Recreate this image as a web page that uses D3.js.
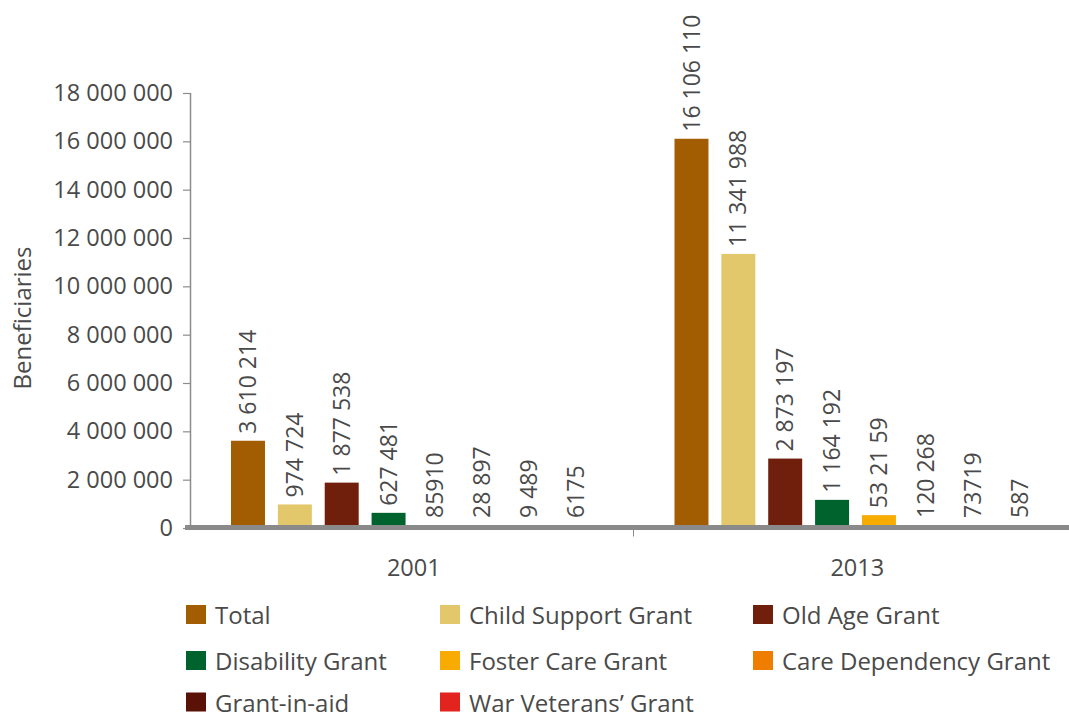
<!DOCTYPE html>
<html>
<head>
<meta charset="utf-8">
<script src="https://cdn.jsdelivr.net/npm/d3@7"></script>
<style>
  html, body { margin: 0; padding: 0; background: #fff; }
  svg { display: block; font-family: "Open Sans", "Noto Sans", sans-serif; }
</style>
</head>
<body>
<svg id="chart" width="1069" height="718"></svg>
<script>
// Social grant beneficiaries by grant type, 2001 and 2013
const years = ["2001", "2013"];
const grants = [
  "Total", "Child Support Grant", "Old Age Grant", "Disability Grant",
  "Foster Care Grant", "Care Dependency Grant", "Grant-in-aid", "War Veterans’ Grant"
];
const grantColors = [
  "#a25d02", "#e2c76b", "#6f1f0c", "#00632e",
  "#f8ab00", "#ee7d00", "#5a1206", "#e2231e"
];
const values2001 = [3610214, 974724, 1877538, 627481, 85910, 28897, 9489, 6175];
const values2013 = [16106110, 11341988, 2873197, 1164192, 532159, 120268, 73719, 587];
const labels2001 = ["3 610 214", "974 724", "1 877 538", "627 481", "85910", "28 897", "9 489", "6175"];
const labels2013 = ["16 106 110", "11 341 988", "2 873 197", "1 164 192", "53 21 59", "120 268", "73719", "587"];
const yTicks = [0, 2000000, 4000000, 6000000, 8000000, 10000000, 12000000, 14000000, 16000000, 18000000];

const series = {
  "2001": { values: values2001, labels: labels2001 },
  "2013": { values: values2013, labels: labels2013 }
};

const svg = d3.select("#chart");
const textColor = "#4a4a4a";
const axisColor = "#8c8c8c";

const plotLeft = 190, plotRight = 1077, plotTop = 93, plotBottom = 528;
const baselineY = 527.5;

const x0 = d3.scaleBand().domain(years).range([plotLeft, plotRight]);
const x1 = d3.scaleBand().domain(grants).range([41, 403]).paddingInner(0.275);
const y = d3.scaleLinear().domain([0, 18000000]).range([plotBottom, plotTop]);

const fmt = d => d3.format(",")(d).replace(/,/g, " ");

// y axis
const yAxis = svg.append("g")
  .attr("transform", `translate(${plotLeft},0)`)
  .call(d3.axisLeft(y).tickValues(yTicks).tickFormat(fmt).tickSize(7).tickPadding(10));
yAxis.select(".domain").attr("stroke", axisColor).attr("stroke-width", 1.5)
  .attr("d", `M0.5,${plotTop}V${plotBottom}`);
yAxis.selectAll(".tick line").attr("stroke", axisColor).attr("stroke-width", 1.2);
yAxis.selectAll(".tick text")
  .attr("fill", textColor)
  .style("font-size", "23.5px")
  .style("font-family", "'Open Sans', sans-serif");

// y axis title
svg.append("text")
  .attr("transform", `translate(31,318) rotate(-90)`)
  .attr("text-anchor", "middle")
  .attr("fill", textColor)
  .style("font-size", "24px")
  .text("Beneficiaries");

// bars and value labels
const groups = svg.append("g").selectAll("g")
  .data(years)
  .join("g")
  .attr("transform", d => `translate(${x0(d)},0)`);

groups.selectAll("rect")
  .data(yr => grants.map((g, i) => ({ g, i, v: series[yr].values[i] })))
  .join("rect")
  .attr("x", d => x1(d.g))
  .attr("width", x1.bandwidth())
  .attr("y", d => y(d.v))
  .attr("height", d => y(0) - y(d.v))
  .attr("fill", d => grantColors[d.i]);

groups.selectAll("text.value")
  .data(yr => grants.map((g, i) => ({ g, i, v: series[yr].values[i], t: series[yr].labels[i] })))
  .join("text")
  .attr("class", "value")
  .attr("transform", d => `translate(${x1(d.g) + x1.bandwidth() / 2},${Math.min(y(d.v), y(0) - 3) - 7}) rotate(-90)`)
  .attr("dy", "0.35em")
  .attr("text-anchor", "start")
  .attr("fill", textColor)
  .style("font-size", "23px")
  .text(d => d.t);

// x axis: thick baseline, category separator and year labels
svg.append("line")
  .attr("x1", 185).attr("x2", 1069)
  .attr("y1", baselineY).attr("y2", baselineY)
  .attr("stroke", "#8a8a8a").attr("stroke-width", 5);

svg.append("line")
  .attr("x1", x0("2013")).attr("x2", x0("2013"))
  .attr("y1", baselineY + 2.5).attr("y2", baselineY + 9)
  .attr("stroke", axisColor).attr("stroke-width", 1);

svg.append("g").selectAll("text")
  .data(years)
  .join("text")
  .attr("x", d => x0(d) + x0.bandwidth() / 2 + 2)
  .attr("y", 576)
  .attr("text-anchor", "middle")
  .attr("fill", textColor)
  .style("font-size", "23.5px")
  .text(d => d);

// legend
const legendCols = [186, 440, 753];
const legendRows = [624, 670, 711.5];
const legend = svg.append("g").selectAll("g")
  .data(grants)
  .join("g")
  .attr("transform", (d, i) => `translate(${legendCols[i % 3]},${legendRows[Math.floor(i / 3)]})`);
legend.append("rect")
  .attr("x", 0).attr("y", -19)
  .attr("width", 20).attr("height", 19)
  .attr("fill", (d, i) => grantColors[i]);
legend.append("text")
  .attr("x", 29).attr("y", 0)
  .attr("fill", textColor)
  .style("font-size", "24px")
  .text(d => d);
</script>
</body>
</html>
